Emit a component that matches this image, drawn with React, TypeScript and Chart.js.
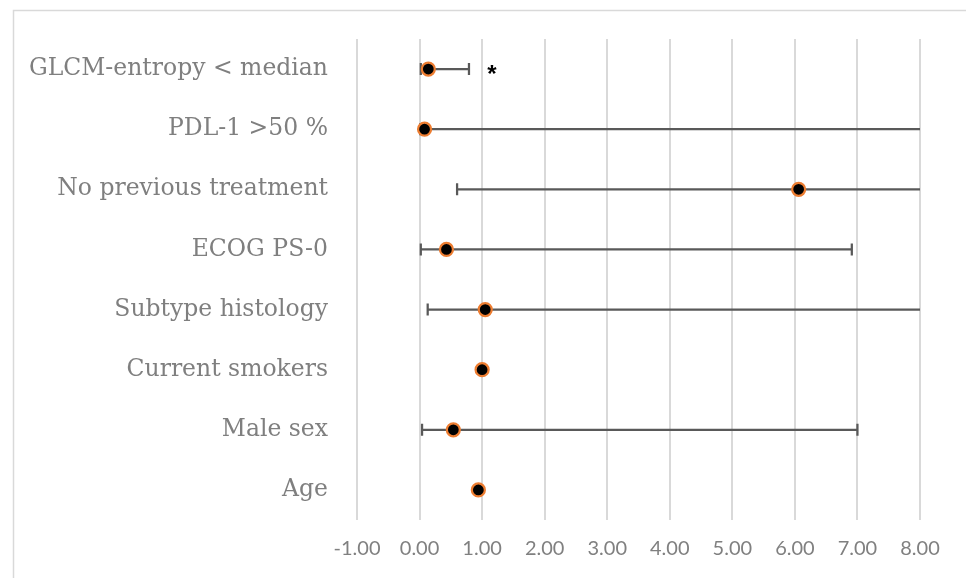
import React, { useEffect, useRef } from "react";
import { Chart, registerables } from "chart.js";

Chart.register(...registerables);

// Predictors, listed top to bottom
const factors: string[] = [
  "GLCM-entropy < median",
  "PDL-1 >50 %",
  "No previous treatment",
  "ECOG PS-0",
  "Subtype histology",
  "Current smokers",
  "Male sex",
  "Age",
];

// Hazard ratios and 95% confidence limits (null = interval too narrow to show)
const hazardRatio: number[] = [0.14, 0.08, 6.06, 0.43, 1.05, 1.0, 0.54, 0.94];
const ciLower: (number | null)[] = [0.02, 0.01, 0.6, 0.02, 0.13, null, 0.04, null];
const ciUpper: (number | null)[] = [0.79, 10.5, 11.0, 6.91, 9.8, null, 7.0, null];

// Significance marker per row
const significance: string[] = ["*", "", "", "", "", "", "", ""];

// Value axis
const axisMin = -1;
const axisMax = 8;
const axisStep = 1;

const frameBox = {
  id: "frameBox",
  beforeDraw(chart: any) {
    const { ctx } = chart;
    ctx.save();
    ctx.strokeStyle = "#d9d9d9";
    ctx.lineWidth = 1.5;
    ctx.strokeRect(13.5, 10.5, 2000, 2000);
    ctx.restore();
  },
};

const errorBars = {
  id: "errorBars",
  beforeDatasetsDraw(chart: any) {
    const { ctx, chartArea } = chart;
    const xs = chart.scales.x;
    const ys = chart.scales.y;
    ctx.save();
    ctx.beginPath();
    ctx.rect(chartArea.left - 2, chartArea.top, chartArea.right - chartArea.left + 4, chartArea.bottom - chartArea.top);
    ctx.clip();
    ctx.strokeStyle = "#595959";
    ctx.lineWidth = 2.25;
    const cap = 6;
    factors.forEach((_, i) => {
      const lo = ciLower[i];
      const hi = ciUpper[i];
      if (lo === null || hi === null) return;
      const y = ys.getPixelForValue(i);
      const x1 = xs.getPixelForValue(Math.max(lo, axisMin));
      const x2 = xs.getPixelForValue(Math.min(hi, axisMax));
      ctx.beginPath();
      ctx.moveTo(x1, y);
      ctx.lineTo(x2, y);
      if (lo >= axisMin) {
        ctx.moveTo(x1, y - cap);
        ctx.lineTo(x1, y + cap);
      }
      if (hi <= axisMax) {
        ctx.moveTo(x2, y - cap);
        ctx.lineTo(x2, y + cap);
      }
      ctx.stroke();
    });
    ctx.restore();
  },
  afterDatasetsDraw(chart: any) {
    const { ctx } = chart;
    const xs = chart.scales.x;
    const ys = chart.scales.y;
    ctx.save();
    ctx.fillStyle = "#000000";
    ctx.font = 'bold 24px "Liberation Sans"';
    ctx.textAlign = "center";
    ctx.textBaseline = "alphabetic";
    significance.forEach((mark, i) => {
      if (!mark) return;
      const ref = ciUpper[i] ?? hazardRatio[i];
      const x = xs.getPixelForValue(ref) + 23;
      const y = ys.getPixelForValue(i);
      const m = ctx.measureText(mark);
      const base = y + (m.actualBoundingBoxAscent - m.actualBoundingBoxDescent) / 2;
      ctx.fillText(mark, x, base);
    });
    ctx.restore();
  },
};

export default function App() {
  const canvasRef = useRef<HTMLCanvasElement | null>(null);

  useEffect(() => {
    if (!canvasRef.current) return;
    const chart = new Chart(canvasRef.current, {
      type: "scatter",
      data: {
        datasets: [
          {
            data: factors.map((f, i) => ({ x: hazardRatio[i], y: f })) as any,
            showLine: false,
            pointRadius: 6.5,
            pointHoverRadius: 6.5,
            pointBackgroundColor: "#000000",
            pointBorderColor: "#ED7D31",
            pointBorderWidth: 2.25,
          },
        ],
      },
      options: {
        responsive: false,
        animation: false,
        devicePixelRatio: 1,
        layout: { padding: { top: 39, right: 46, left: 0, bottom: 0 } },
        plugins: {
          legend: { display: false },
          tooltip: { enabled: false },
        },
        scales: {
          x: {
            type: "linear",
            min: axisMin,
            max: axisMax,
            afterFit: (s: any) => {
              s.height = 58;
              s.paddingLeft = 0;
              s.paddingRight = 0;
            },
            ticks: {
              stepSize: axisStep,
              color: "#808080",
              font: { family: "Lato", size: 20 },
              padding: 17,
              callback: (v: any) => Number(v).toFixed(2),
            },
            grid: { color: "#d9d9d9", lineWidth: 2, drawTicks: false },
            border: { display: false },
          },
          y: {
            type: "category",
            labels: factors,
            offset: true,
            afterFit: (s: any) => {
              s.width = 357;
              s.paddingTop = 0;
              s.paddingBottom = 0;
            },
            ticks: {
              color: "#7f7f7f",
              font: { family: "DejaVu Serif", size: 23.5 },
              padding: 29,
            },
            grid: { display: false, drawTicks: false },
            border: { display: false },
          },
        },
      },
      plugins: [frameBox, errorBars],
    });
    return () => chart.destroy();
  }, []);

  return (
    <div style={{ position: "fixed", left: 0, top: 0, width: 966, height: 578, background: "#ffffff" }}>
      <canvas ref={canvasRef} width={966} height={578} style={{ display: "block" }} />
    </div>
  );
}
